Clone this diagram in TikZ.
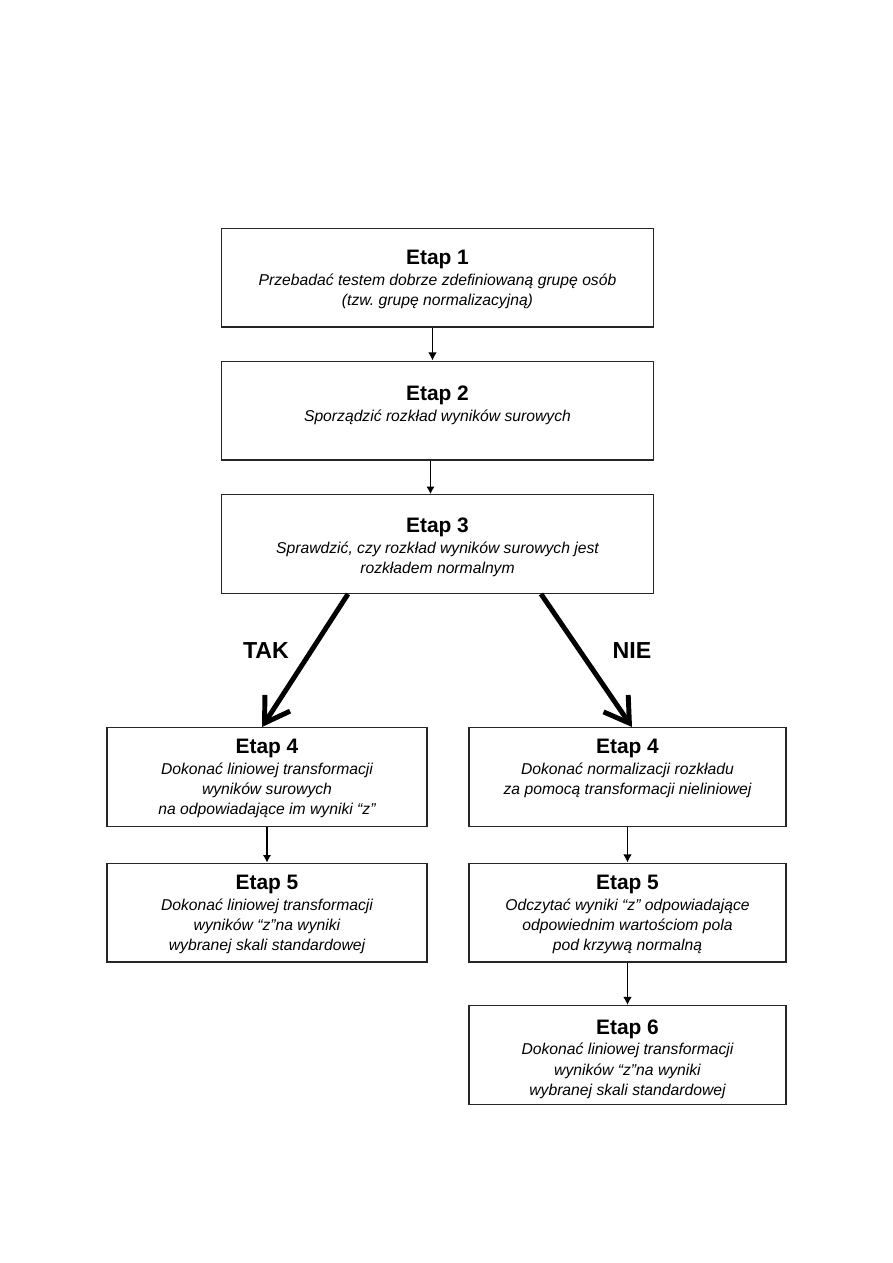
\documentclass[tikz,border=0pt]{standalone}
\usepackage{fontspec}
\setmainfont{Liberation Sans}
\usetikzlibrary{arrows.meta,calc}
\frenchspacing

% one box: width, gap above heading, number, italic lines
\newcommand{\etapbody}[4]{%
  \begin{minipage}[c][66pt][t]{#1}\centering\frenchspacing
    \vspace*{#2}{\fontsize{14}{16}\selectfont\bfseries Etap #3\par}
    \vspace{0.3pt}{\fontsize{10.5}{13.5}\selectfont\itshape #4\par}
  \end{minipage}}

\begin{document}
\begin{tikzpicture}[x=0.02352cm,y=-0.02352cm,line join=miter,
  etap/.style={draw=black!85,line width=.9pt,inner sep=0pt},
  thinarrow/.style={line width=.7pt,-{Latex[length=5pt,width=5.5pt]}},
  midarrow/.style={line width=1.3pt,-{Latex[length=5.5pt,width=6pt]}},
  bigarrow/.style={line width=3.3pt,-{Straight Barb[length=16pt,width=20pt]}},
  answer/.style={font=\fontsize{15.5}{17}\selectfont\bfseries}]
\path[use as bounding box] (0,0) rectangle (893,1263);
\fill[white] (0,0) rectangle (893,1263);

% main column
\node[etap] (e1) at (437.5,277.5) {\etapbody{289pt}{14.7pt}{1}{Przebadać testem dobrze zdefiniowaną grupę osób\\(tzw. grupę normalizacyjną)}};
\node[etap] (e2) at (437.5,410.5) {\etapbody{289pt}{16.5pt}{2}{Sporządzić rozkład wyników surowych}};
\node[etap] (e3) at (437.5,544) {\etapbody{289pt}{15.7pt}{3}{Sprawdzić, czy rozkład wyników surowych jest\\rozkładem normalnym}};

% TAK branch
\node[etap] (e4l) at (267,777) {\etapbody{214pt}{7.7pt}{4}{Dokonać liniowej transformacji\\wyników surowych\\na odpowiadające im wyniki “z”}};
\node[etap] (e5l) at (267,912.5) {\etapbody{214pt}{8pt}{5}{Dokonać liniowej transformacji\\wyników “z”na wyniki\\wybranej skali standardowej}};

% NIE branch
\node[etap] (e4r) at (627.5,777) {\etapbody{212pt}{7.7pt}{4}{Dokonać normalizacji rozkładu\\za pomocą transformacji nieliniowej}};
\node[etap] (e5r) at (627.5,912.5) {\etapbody{212pt}{8pt}{5}{Odczytać wyniki “z” odpowiadające\\odpowiednim wartościom pola\\pod krzywą normalną}};
\node[etap] (e6) at (627.5,1055) {\etapbody{212pt}{9.3pt}{6}{Dokonać liniowej transformacji\\wyników “z”na wyniki\\wybranej skali standardowej}};

\node[answer] (tak) at (266,651) {TAK};
\node[answer] (nie) at (632,651) {NIE};

% connectors
\draw[midarrow] ($(e1.south)+(-5,0)$) -- ($(e2.north)+(-5,0)$);
\draw[thinarrow] ($(e2.south)+(-7,0)$) -- ($(e3.north)+(-7,0)$);
\draw[bigarrow] ($(e3.south)+(-89.5,0)$) -- ($(e4l.north)+(-5,0)$);
\draw[bigarrow] ($(e3.south)+(103.5,0)$) -- ($(e4r.north)+(4.5,0)$);
\draw[thinarrow] (e4l) -- (e5l);
\draw[midarrow] (e4r) -- (e5r);
\draw[midarrow] (e5r) -- (e6);
\end{tikzpicture}
\end{document}
